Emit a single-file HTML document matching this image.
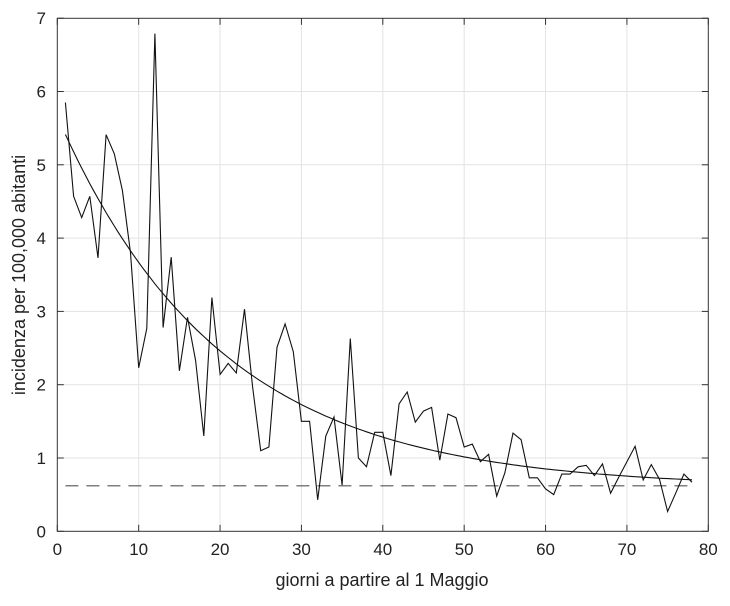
<!DOCTYPE html>
<html><head><meta charset="utf-8"><style>
body{margin:0;background:#fff;}
svg text{font-family:"Liberation Sans",Arial,sans-serif;fill:#222;}
</style></head><body>
<svg id="s" width="730" height="601" viewBox="0 0 730 601" xmlns="http://www.w3.org/2000/svg">
<rect width="730" height="601" fill="#fff"/>
<g id="grid" stroke="#e3e3e3" stroke-width="1"></g>
<g id="ticks" stroke="#333" stroke-width="1"></g>
<rect x="57.3" y="18.3" width="651" height="513" fill="none" stroke="#333" stroke-width="1"/>
<line x1="65.4" y1="485.8" x2="692" y2="485.8" stroke="#555" stroke-width="1.2" stroke-dasharray="13,8"/>
<polyline id="fit" fill="none" stroke="#111" stroke-width="1.1"/>
<polyline id="data" fill="none" stroke="#111" stroke-width="1.1"/>
<g id="labels" font-size="17"></g>
<text x="382" y="586" font-size="18" text-anchor="middle">giorni a partire al 1 Maggio</text>
<text transform="translate(25,275) rotate(-90)" font-size="18" text-anchor="middle">incidenza per 100,000 abitanti</text>
</svg>
<script>
var X=function(v){return 57.3+v*8.1375},Y=function(v){return 531.3-v*73.3};
var d=[5.85,4.57,4.28,4.57,3.73,5.41,5.15,4.65,3.8,2.23,2.77,6.79,2.78,3.74,2.19,2.92,2.33,1.30,3.19,2.14,2.29,2.16,3.03,1.97,1.10,1.15,2.51,2.83,2.45,1.50,1.50,0.43,1.30,1.56,0.63,2.63,1.00,0.88,1.35,1.35,0.76,1.74,1.90,1.49,1.64,1.69,0.97,1.60,1.55,1.15,1.19,0.95,1.05,0.48,0.80,1.34,1.25,0.73,0.73,0.58,0.50,0.78,0.78,0.88,0.90,0.76,0.92,0.52,0.74,0.95,1.16,0.70,0.91,0.71,0.27,0.52,0.78,0.67];
var p=[];for(var i=0;i<d.length;i++)p.push(X(i+1).toFixed(1)+","+Y(d[i]).toFixed(1));
document.getElementById("data").setAttribute("points",p.join(" "));
var f=[];for(var x=1;x<=78;x+=0.5)f.push(X(x).toFixed(1)+","+Y(5.06*Math.exp(-0.05*x)+0.6).toFixed(1));
document.getElementById("fit").setAttribute("points",f.join(" "));
var g=document.getElementById("grid"),t=document.getElementById("ticks"),l=document.getElementById("labels"),ns="http://www.w3.org/2000/svg";
function ln(par,a,b,c,e){var q=document.createElementNS(ns,"line");q.setAttribute("x1",a);q.setAttribute("y1",b);q.setAttribute("x2",c);q.setAttribute("y2",e);par.appendChild(q);}
function tx(s,x,y,anc){var q=document.createElementNS(ns,"text");q.setAttribute("x",x);q.setAttribute("y",y);q.setAttribute("text-anchor",anc);q.textContent=s;l.appendChild(q);}
for(var v=0;v<=80;v+=10){var xx=X(v);if(v>0&&v<80)ln(g,xx,18.3,xx,531.3);ln(t,xx,531.3,xx,524.8);ln(t,xx,18.3,xx,24.8);tx(v,xx,555,"middle");}
for(var v=0;v<=7;v++){var yy=Y(v);if(v>0&&v<7)ln(g,57.3,yy,708.3,yy);ln(t,57.3,yy,63.8,yy);ln(t,708.3,yy,701.8,yy);tx(v,46,yy+6,"end");}
</script>
</body></html>
